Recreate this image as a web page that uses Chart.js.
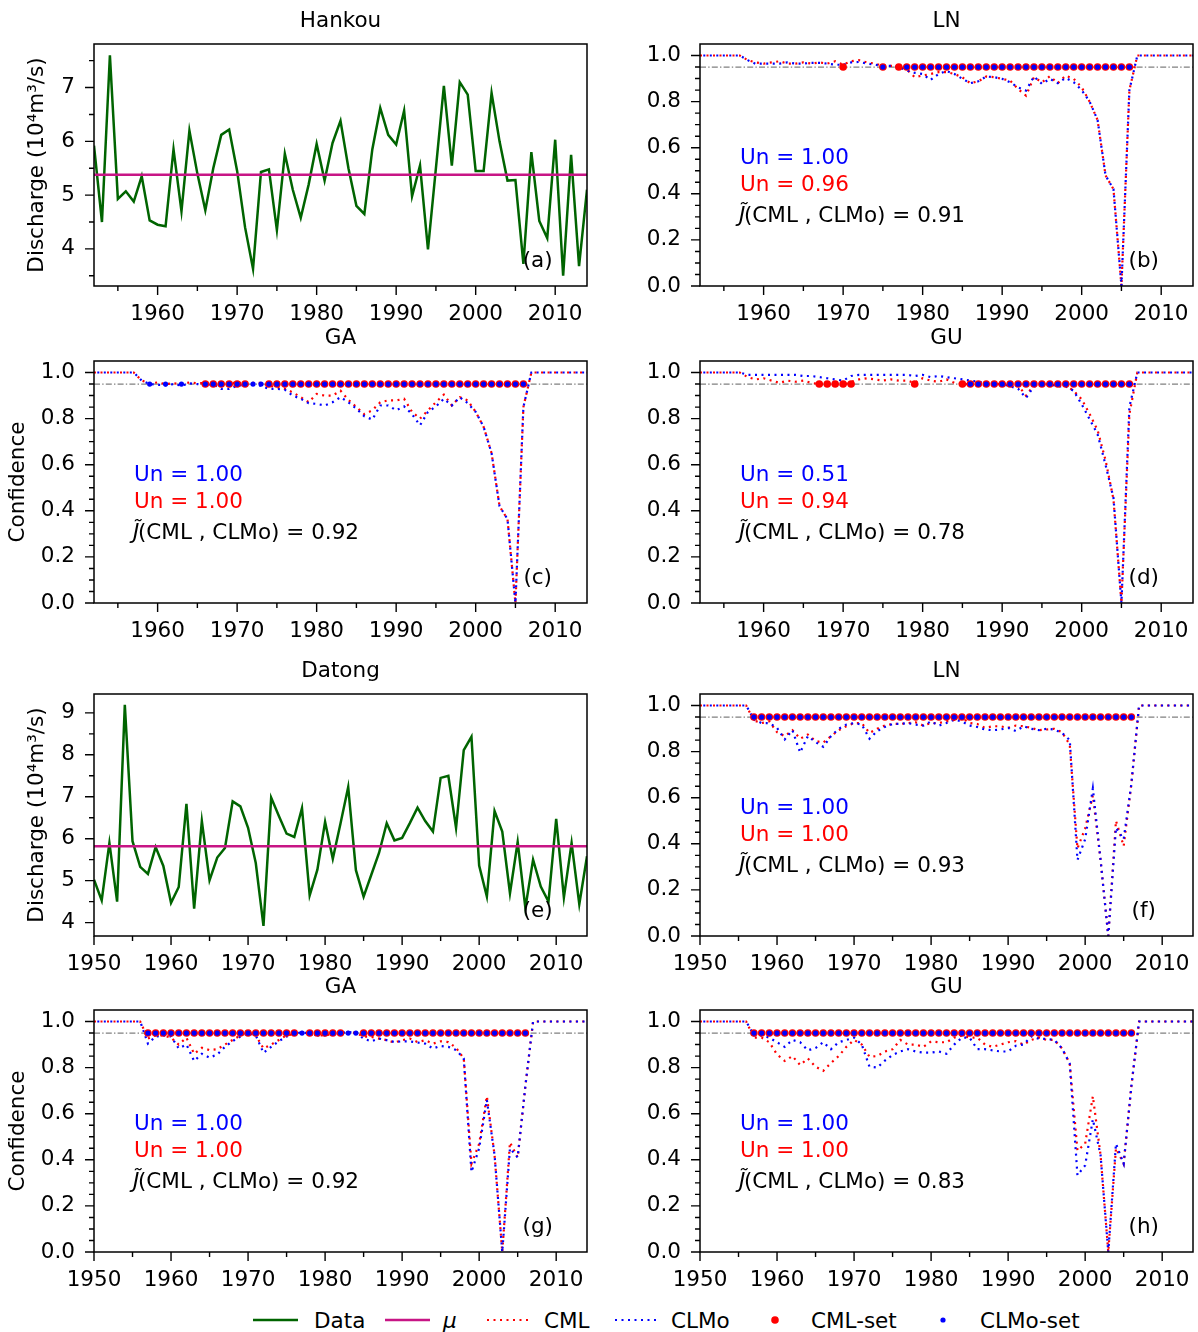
<!DOCTYPE html>
<html>
<head>
<meta charset="utf-8">
<script src="https://cdn.jsdelivr.net/npm/chart.js@4.4.1/dist/chart.umd.min.js"></script>
<style>
  body { margin: 0; background: #fff; width: 1198px; height: 1332px; position: relative; overflow: hidden; }
  canvas { position: absolute; }
  #legend { position: absolute; left: 0; top: 1300px; }
</style>
</head>
<body>
<svg id="legend" width="1198" height="40" font-family="DejaVu Sans" font-size="21.5">
  <line x1="253" y1="20" x2="298" y2="20" stroke="#006400" stroke-width="2.5"/>
  <text x="314" y="27.5">Data</text>
  <line x1="385" y1="20" x2="430" y2="20" stroke="#c71585" stroke-width="2.5"/>
  <text x="443" y="27.5" font-style="italic">μ</text>
  <line x1="487" y1="20" x2="528" y2="20" stroke="#ff0000" stroke-width="2" stroke-dasharray="2 4.5"/>
  <text x="544" y="27.5">CML</text>
  <line x1="615" y1="20" x2="656" y2="20" stroke="#0000ff" stroke-width="2" stroke-dasharray="2 4.5"/>
  <text x="671" y="27.5">CLMo</text>
  <circle cx="775" cy="20" r="3.8" fill="#ff0000"/>
  <text x="811" y="27.5">CML-set</text>
  <circle cx="943" cy="20" r="2.6" fill="#0000ff"/>
  <text x="980" y="27.5">CLMo-set</text>
</svg>
<script>
function range(a, b) { const r = []; for (let v = a; v <= b; v++) r.push(v); return r; }

// années
const yearsHankou = range(1952, 2014);
const yearsDatong = range(1950, 2014);

// débits (10^4 m3/s)
const dischargeHankou = [
  5.92, 4.50, 7.60, 4.93, 5.07, 4.88, 5.35, 4.53, 4.45, 4.42,
  5.85, 4.70, 6.20, 5.40, 4.72, 5.50, 6.12, 6.22, 5.45, 4.40,
  3.63, 5.43, 5.48, 4.35, 5.77, 5.10, 4.58, 5.20, 5.95, 5.27,
  5.97, 6.38, 5.50, 4.80, 4.65, 5.85, 6.62, 6.12, 5.94, 6.57,
  4.98, 5.55, 3.99, 5.50, 7.03, 5.55, 7.10, 6.87, 5.45, 5.45,
  6.90, 6.00, 5.27, 5.28, 3.72, 5.80, 4.52, 4.20, 6.03, 3.50,
  5.75, 3.68, 5.10
];
const dischargeDatong = [
  5.02, 4.53, 5.90, 4.50, 9.19, 5.94, 5.33, 5.16, 5.80, 5.35,
  4.47, 4.85, 6.83, 4.33, 6.42, 5.01, 5.55, 5.78, 6.89, 6.77,
  6.26, 5.42, 3.92, 6.98, 6.54, 6.12, 6.04, 6.73, 4.65, 5.26,
  6.40, 5.52, 6.36, 7.23, 5.25, 4.62, 5.14, 5.66, 6.37, 5.96,
  6.02, 6.37, 6.74, 6.42, 6.17, 7.45, 7.50, 6.26, 8.11, 8.43,
  5.36, 4.62, 6.66, 6.17, 4.70, 5.92, 4.35, 5.50, 4.86, 4.50,
  6.47, 4.60, 5.90, 4.44, 5.58
];
const muHankou = 5.38;
const muDatong = 5.82;
const setLevel = 0.95;

// confiance Hankou (1952-2014)
const cmlLNHankou = [1, 1, 1, 1, 1, 1,
  0.98, 0.97, 0.965, 0.97, 0.975, 0.965, 0.965, 0.97, 0.965, 0.97,
  0.965, 0.975, 0.96, 0.975, 0.98, 0.97, 0.965, 0.955, 0.955, 0.955,
  0.94, 0.906, 0.913, 0.92, 0.928, 0.928, 0.92, 0.905, 0.88, 0.888,
  0.909, 0.906, 0.899, 0.891, 0.855, 0.826, 0.906, 0.884, 0.91, 0.88,
  0.913, 0.899, 0.862, 0.8, 0.72, 0.48, 0.42, 0, 0.85,
  1, 1, 1, 1, 1, 1, 1, 1];
const clmoLNHankou = [1, 1, 1, 1, 1, 1,
  0.98, 0.964, 0.965, 0.965, 0.965, 0.97, 0.965, 0.965, 0.968, 0.968,
  0.965, 0.96, 0.96, 0.97, 0.972, 0.965, 0.96, 0.955, 0.955, 0.95,
  0.935, 0.925, 0.92, 0.894, 0.92, 0.933, 0.92, 0.899, 0.88, 0.888,
  0.909, 0.906, 0.899, 0.884, 0.862, 0.848, 0.909, 0.877, 0.899, 0.88,
  0.903, 0.884, 0.85, 0.8, 0.72, 0.48, 0.42, 0, 0.85,
  1, 1, 1, 1, 1, 1, 1, 1];
const cmlGAHankou = [1, 1, 1, 1, 1, 1,
  0.965, 0.953, 0.957, 0.95, 0.953, 0.95, 0.957, 0.953, 0.955, 0.955,
  0.955, 0.955, 0.955, 0.955, 0.955, 0.955, 0.943, 0.936, 0.929, 0.914,
  0.893, 0.871, 0.907, 0.9, 0.9, 0.921, 0.881, 0.85, 0.819, 0.836,
  0.871, 0.879, 0.879, 0.886, 0.829, 0.8, 0.836, 0.871, 0.904, 0.857,
  0.893, 0.879, 0.829, 0.764, 0.65, 0.42, 0.364, 0, 0.85,
  1, 1, 1, 1, 1, 1, 1, 1];
const clmoGAHankou = [1, 1, 1, 1, 1, 1,
  0.965, 0.95, 0.947, 0.944, 0.95, 0.943, 0.953, 0.95, 0.943, 0.95,
  0.929, 0.929, 0.943, 0.947, 0.947, 0.943, 0.929, 0.929, 0.925, 0.9,
  0.886, 0.867, 0.864, 0.857, 0.871, 0.893, 0.871, 0.843, 0.81, 0.796,
  0.857, 0.857, 0.836, 0.853, 0.819, 0.771, 0.829, 0.853, 0.886, 0.857,
  0.893, 0.867, 0.829, 0.764, 0.65, 0.42, 0.364, 0, 0.85,
  1, 1, 1, 1, 1, 1, 1, 1];
const cmlGUHankou = [1, 1, 1, 1, 1, 1,
  0.98, 0.97, 0.975, 0.965, 0.955, 0.965, 0.96, 0.965, 0.955, 0.95,
  0.95, 0.95, 0.945, 0.96, 0.97, 0.975, 0.97, 0.965, 0.97, 0.965,
  0.965, 0.955, 0.975, 0.965, 0.96, 0.97, 0.955, 0.95, 0.95, 0.95,
  0.95, 0.95, 0.95, 0.95, 0.945, 0.9, 0.945, 0.95, 0.95, 0.94,
  0.945, 0.92, 0.884, 0.82, 0.75, 0.62, 0.45, 0, 0.82,
  1, 1, 1, 1, 1, 1, 1, 1];
const clmoGUHankou = [1, 1, 1, 1, 1, 1,
  0.99, 0.99, 0.99, 0.99, 0.99, 0.99, 0.99, 0.985, 0.985, 0.98,
  0.975, 0.97, 0.965, 0.985, 0.99, 0.99, 0.99, 0.99, 0.99, 0.99,
  0.99, 0.985, 0.99, 0.98, 0.985, 0.98, 0.975, 0.97, 0.965, 0.96,
  0.955, 0.955, 0.95, 0.94, 0.93, 0.89, 0.94, 0.945, 0.95, 0.94,
  0.94, 0.92, 0.862, 0.797, 0.732, 0.6, 0.456, 0, 0.85,
  1, 1, 1, 1, 1, 1, 1, 1];

// confiance Datong (1950-2014)
const cmlLNDatong = [1, 1, 1, 1, 1, 1, 1,
  0.935, 0.924, 0.931, 0.884, 0.867, 0.893, 0.856, 0.874, 0.846, 0.839,
  0.867, 0.893, 0.91, 0.924, 0.924, 0.881, 0.899, 0.913, 0.92, 0.92,
  0.924, 0.927, 0.913, 0.924, 0.924, 0.931, 0.937, 0.946, 0.924, 0.92,
  0.903, 0.91, 0.91, 0.903, 0.913, 0.91, 0.903, 0.893, 0.896, 0.899,
  0.884, 0.83, 0.38, 0.467, 0.61, 0.33, 0, 0.5, 0.39, 0.66,
  1, 1, 1, 1, 1, 1, 1, 1];
const clmoLNDatong = [1, 1, 1, 1, 1, 1, 1,
  0.939, 0.924, 0.924, 0.903, 0.853, 0.893, 0.796, 0.867, 0.841, 0.821,
  0.867, 0.899, 0.917, 0.924, 0.917, 0.856, 0.889, 0.907, 0.92, 0.92,
  0.924, 0.917, 0.913, 0.931, 0.913, 0.924, 0.939, 0.931, 0.913, 0.907,
  0.896, 0.893, 0.896, 0.903, 0.889, 0.91, 0.899, 0.893, 0.899, 0.896,
  0.881, 0.85, 0.33, 0.42, 0.64, 0.33, 0, 0.47, 0.42, 0.66,
  1, 1, 1, 1, 1, 1, 1, 1];
const cmlGADatong = [1, 1, 1, 1, 1, 1, 1,
  0.926, 0.94, 0.94, 0.93, 0.9, 0.93, 0.86, 0.886, 0.876, 0.88,
  0.9, 0.92, 0.94, 0.95, 0.94, 0.883, 0.9, 0.92, 0.94, 0.945,
  0.955, 0.945, 0.94, 0.94, 0.945, 0.95, 0.955, 0.95, 0.935, 0.933,
  0.926, 0.919, 0.909, 0.919, 0.926, 0.911, 0.919, 0.904, 0.914, 0.911,
  0.886, 0.84, 0.383, 0.469, 0.676, 0.42, 0, 0.476, 0.41, 0.72,
  1, 1, 1, 1, 1, 1, 1, 1];
const clmoGADatong = [1, 1, 1, 1, 1, 1, 1,
  0.904, 0.935, 0.94, 0.935, 0.883, 0.9, 0.829, 0.86, 0.843, 0.857,
  0.89, 0.915, 0.935, 0.95, 0.94, 0.864, 0.89, 0.915, 0.935, 0.945,
  0.955, 0.945, 0.94, 0.94, 0.945, 0.95, 0.955, 0.95, 0.926, 0.914,
  0.926, 0.919, 0.911, 0.914, 0.914, 0.909, 0.904, 0.883, 0.894, 0.89,
  0.876, 0.84, 0.347, 0.45, 0.66, 0.42, 0, 0.45, 0.41, 0.72,
  1, 1, 1, 1, 1, 1, 1, 1];
const cmlGUDatong = [1, 1, 1, 1, 1, 1, 1,
  0.93, 0.93, 0.91, 0.857, 0.829, 0.85, 0.811, 0.84, 0.804, 0.786,
  0.82, 0.85, 0.89, 0.92, 0.9, 0.847, 0.85, 0.87, 0.88, 0.92,
  0.9, 0.9, 0.89, 0.914, 0.91, 0.91, 0.93, 0.94, 0.93, 0.93,
  0.9, 0.89, 0.9, 0.91, 0.915, 0.9, 0.92, 0.93, 0.92, 0.92,
  0.883, 0.818, 0.44, 0.469, 0.676, 0.42, 0, 0.45, 0.383, 0.72,
  1, 1, 1, 1, 1, 1, 1, 1];
const clmoGUDatong = [1, 1, 1, 1, 1, 1, 1,
  0.94, 0.94, 0.93, 0.91, 0.89, 0.92, 0.91, 0.875, 0.885, 0.91,
  0.88, 0.91, 0.92, 0.93, 0.9, 0.804, 0.8, 0.83, 0.855, 0.87,
  0.88, 0.87, 0.865, 0.865, 0.87, 0.86, 0.9, 0.93, 0.93, 0.88,
  0.88, 0.875, 0.87, 0.87, 0.895, 0.9, 0.935, 0.925, 0.925, 0.92,
  0.883, 0.818, 0.333, 0.376, 0.576, 0.42, 0, 0.47, 0.383, 0.72,
  1, 1, 1, 1, 1, 1, 1, 1];

// années retenues dans les ensembles
const cmlSetLNHankou = [1970, 1975, ...range(1977, 2006)];
const clmoSetLNHankou = [1975, ...range(1978, 2006)];
const cmlSetGAHankou = [...range(1966, 1971), ...range(1974, 2006)];
const clmoSetGAHankou = [1959, 1961, 1963, ...range(1966, 2006)];
const cmlSetGUHankou = [...range(1967, 1971), 1979, ...range(1985, 2006)];
const clmoSetGUHankou = range(1986, 2006);
const cmlSetLNDatong = range(1957, 2006);
const clmoSetLNDatong = range(1957, 2006);
const cmlSetGADatong = [...range(1957, 1976), ...range(1978, 1982), ...range(1985, 2006)];
const clmoSetGADatong = range(1957, 2006);
const cmlSetGUDatong = range(1957, 2006);
const clmoSetGUDatong = range(1957, 2006);

// indices affichés
const unCLMo = ['1.00', '1.00', '0.51', '1.00', '1.00', '1.00'];
const unCML = ['0.96', '1.00', '0.94', '1.00', '1.00', '1.00'];
const jTilde = ['0.91', '0.92', '0.78', '0.93', '0.92', '0.83'];

// ticks
const xTicksHankou = [1960, 1970, 1980, 1990, 2000, 2010];
const xTicksDatong = [1950, 1960, 1970, 1980, 1990, 2000, 2010];
const yTicksHankou = [4, 5, 6, 7];
const yTicksDatong = [4, 5, 6, 7, 8, 9];
const yTicksConf = [0, 0.2, 0.4, 0.6, 0.8, 1.0];

const FONT = '"DejaVu Sans"';
const FS = 21.5;
const PW = 493, PH = 242;

const decor = {
  id: 'decor',
  afterDraw(chart) {
    const o = chart.options.plugins.decor;
    const { ctx, chartArea: a } = chart;
    const xs = chart.scales.x, ys = chart.scales.y;
    const W = a.right - a.left, H = a.bottom - a.top;
    ctx.save();
    ctx.strokeStyle = '#000';
    ctx.lineWidth = 1.4;
    ctx.beginPath();
    for (let v = Math.ceil(xs.min / 5) * 5; v <= xs.max + 1e-9; v += 5) {
      const px = xs.getPixelForValue(v);
      ctx.moveTo(px, a.bottom);
      ctx.lineTo(px, a.bottom + (v % 10 === 0 ? 9 : 5));
    }
    for (let k = Math.ceil(ys.min / o.yMinor - 1e-6); k * o.yMinor < ys.max - 1e-6; k++) {
      const v = k * o.yMinor;
      const r = v / o.yMajor;
      const major = Math.abs(r - Math.round(r)) < 1e-6;
      const py = ys.getPixelForValue(v);
      ctx.moveTo(a.left, py);
      ctx.lineTo(a.left - (major ? 9 : 5), py);
    }
    ctx.stroke();
    ctx.lineWidth = 1.5;
    ctx.strokeRect(a.left, a.top, W, H);

    ctx.fillStyle = '#000';
    ctx.font = FS + 'px ' + FONT;
    ctx.textAlign = 'center';
    ctx.textBaseline = 'middle';
    ctx.fillText(o.title, a.left + W / 2, a.top - 22.5);
    ctx.fillText(o.tag, a.left + 0.9 * W, a.top + 0.9 * H);

    if (o.yTitle) {
      ctx.save();
      ctx.translate(a.left - o.yTitleOff, a.top + H / 2);
      ctx.rotate(-Math.PI / 2);
      ctx.fillText(o.yTitle, 0, 0);
      ctx.restore();
    }

    if (o.un) {
      const tx = a.left + 0.081 * W;
      ctx.textAlign = 'left';
      ctx.fillStyle = '#0000ff';
      ctx.fillText('Un = ' + o.un[0], tx, a.top + 0.473 * H);
      ctx.fillStyle = '#ff0000';
      ctx.fillText('Un = ' + o.un[1], tx, a.top + 0.584 * H);
      ctx.fillStyle = '#000';
      const jy = a.top + 0.713 * H;
      ctx.font = 'italic ' + FS + 'px ' + FONT;
      ctx.fillText('J\u0303', tx - 1, jy);
      ctx.font = FS + 'px ' + FONT;
      ctx.fillText('(CML , CLMo) = ' + o.un[2], tx + 4, jy);
    }
    ctx.restore();
  }
};

function pts(xs, ys) { return xs.map((x, i) => ({ x: x, y: ys[i] })); }

function panel(left, top, o) {
  const cv = document.createElement('canvas');
  cv.width = PW + 100; cv.height = PH + 94;
  cv.style.left = (left - 94) + 'px';
  cv.style.top = (top - 44) + 'px';
  cv.style.width = cv.width + 'px';
  cv.style.height = cv.height + 'px';
  document.body.appendChild(cv);

  const xMin = o.years[0], xMax = o.years[o.years.length - 1];
  const datasets = [];
  if (o.discharge) {
    datasets.push({ data: [{ x: xMin, y: o.mu }, { x: xMax, y: o.mu }], borderColor: '#c71585', borderWidth: 2.5, order: 1 });
    datasets.push({ data: pts(o.years, o.discharge), borderColor: '#006400', borderWidth: 2.5, order: 2 });
  } else {
    datasets.push({ data: o.clmoSet.map(x => ({ x: x, y: setLevel })), showLine: false, pointRadius: 2.6,
      pointBackgroundColor: '#0000ff', pointBorderColor: '#0000ff', pointBorderWidth: 0, order: 1 });
    datasets.push({ data: o.cmlSet.map(x => ({ x: x, y: setLevel })), showLine: false, pointRadius: 3.8,
      pointBackgroundColor: '#ff0000', pointBorderColor: '#ff0000', pointBorderWidth: 0, order: 2 });
    datasets.push({ data: pts(o.years, o.clmo), borderColor: '#0000ff', borderWidth: 2.2,
      borderDash: [2, 4.5], borderDashOffset: 3.2, order: 3 });
    datasets.push({ data: pts(o.years, o.cml), borderColor: '#ff0000', borderWidth: 2.2,
      borderDash: [2, 4.5], order: 4 });
    datasets.push({ data: [{ x: xMin, y: setLevel }, { x: xMax, y: setLevel }], borderColor: '#808080',
      borderWidth: 1.2, borderDash: [6, 2.2, 1.4, 2.2], order: 5 });
  }
  datasets.forEach(d => { if (d.pointRadius === undefined) d.pointRadius = 0; d.tension = 0; d.fill = false; });

  new Chart(cv, {
    type: 'line',
    data: { datasets: datasets },
    options: {
      responsive: false,
      animation: false,
      layout: { padding: { top: 44, right: 6, left: 0, bottom: 0 } },
      plugins: {
        legend: { display: false },
        tooltip: { enabled: false },
        decor: o.decor
      },
      scales: {
        x: {
          type: 'linear', min: xMin, max: xMax,
          afterBuildTicks: s => { s.ticks = o.xTicks.map(v => ({ value: v })); },
          afterFit: s => { s.height = 50; s.paddingLeft = 0; s.paddingRight = 0; },
          grid: { display: false, drawTicks: false },
          border: { display: false },
          ticks: { font: { family: 'DejaVu Sans', size: FS }, color: '#000', padding: 16, maxRotation: 0, autoSkip: false,
            callback: v => String(v) }
        },
        y: {
          type: 'linear', min: o.yMin, max: o.yMax,
          afterBuildTicks: s => { s.ticks = o.yTicks.map(v => ({ value: v })); },
          afterFit: s => { s.width = 94; s.paddingTop = 0; s.paddingBottom = 0; },
          grid: { display: false, drawTicks: false },
          border: { display: false },
          ticks: { font: { family: 'DejaVu Sans', size: FS }, color: '#000', padding: 19, autoSkip: false,
            callback: v => o.discharge ? String(v) : v.toFixed(1) }
        }
      }
    },
    plugins: [decor]
  });
}

const L1 = 94, L2 = 700;
const T = [44, 361, 694, 1010];
const yDis = 'Discharge (10\u2074m\u00B3/s)';

panel(L1, T[0], { years: yearsHankou, discharge: dischargeHankou, mu: muHankou, xTicks: xTicksHankou,
  yTicks: yTicksHankou, yMin: 3.31, yMax: 7.81,
  decor: { title: 'Hankou', tag: '(a)', yTitle: yDis, yTitleOff: 57, yMinor: 0.5, yMajor: 1 } });
panel(L2, T[0], { years: yearsHankou, cml: cmlLNHankou, clmo: clmoLNHankou, cmlSet: cmlSetLNHankou, clmoSet: clmoSetLNHankou,
  xTicks: xTicksHankou, yTicks: yTicksConf, yMin: 0, yMax: 1.05,
  decor: { title: 'LN', tag: '(b)', yMinor: 0.05, yMajor: 0.2, un: [unCLMo[0], unCML[0], jTilde[0]] } });
panel(L1, T[1], { years: yearsHankou, cml: cmlGAHankou, clmo: clmoGAHankou, cmlSet: cmlSetGAHankou, clmoSet: clmoSetGAHankou,
  xTicks: xTicksHankou, yTicks: yTicksConf, yMin: 0, yMax: 1.05,
  decor: { title: 'GA', tag: '(c)', yTitle: 'Confidence', yTitleOff: 76, yMinor: 0.05, yMajor: 0.2, un: [unCLMo[1], unCML[1], jTilde[1]] } });
panel(L2, T[1], { years: yearsHankou, cml: cmlGUHankou, clmo: clmoGUHankou, cmlSet: cmlSetGUHankou, clmoSet: clmoSetGUHankou,
  xTicks: xTicksHankou, yTicks: yTicksConf, yMin: 0, yMax: 1.05,
  decor: { title: 'GU', tag: '(d)', yMinor: 0.05, yMajor: 0.2, un: [unCLMo[2], unCML[2], jTilde[2]] } });
panel(L1, T[2], { years: yearsDatong, discharge: dischargeDatong, mu: muDatong, xTicks: xTicksDatong,
  yTicks: yTicksDatong, yMin: 3.68, yMax: 9.45,
  decor: { title: 'Datong', tag: '(e)', yTitle: yDis, yTitleOff: 57, yMinor: 0.5, yMajor: 1 } });
panel(L2, T[2], { years: yearsDatong, cml: cmlLNDatong, clmo: clmoLNDatong, cmlSet: cmlSetLNDatong, clmoSet: clmoSetLNDatong,
  xTicks: xTicksDatong, yTicks: yTicksConf, yMin: 0, yMax: 1.05,
  decor: { title: 'LN', tag: '(f)', yMinor: 0.05, yMajor: 0.2, un: [unCLMo[3], unCML[3], jTilde[3]] } });
panel(L1, T[3], { years: yearsDatong, cml: cmlGADatong, clmo: clmoGADatong, cmlSet: cmlSetGADatong, clmoSet: clmoSetGADatong,
  xTicks: xTicksDatong, yTicks: yTicksConf, yMin: 0, yMax: 1.05,
  decor: { title: 'GA', tag: '(g)', yTitle: 'Confidence', yTitleOff: 76, yMinor: 0.05, yMajor: 0.2, un: [unCLMo[4], unCML[4], jTilde[4]] } });
panel(L2, T[3], { years: yearsDatong, cml: cmlGUDatong, clmo: clmoGUDatong, cmlSet: cmlSetGUDatong, clmoSet: clmoSetGUDatong,
  xTicks: xTicksDatong, yTicks: yTicksConf, yMin: 0, yMax: 1.05,
  decor: { title: 'GU', tag: '(h)', yMinor: 0.05, yMajor: 0.2, un: [unCLMo[5], unCML[5], jTilde[5]] } });
</script>
</body>
</html>
